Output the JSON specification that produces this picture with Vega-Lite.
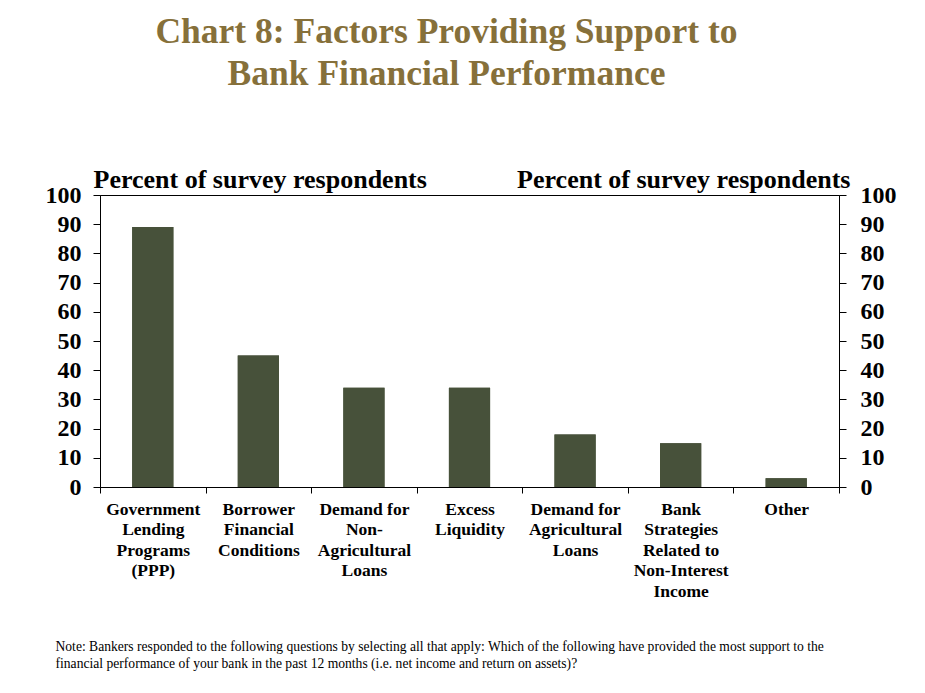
{
  "$schema": "https://vega.github.io/schema/vega-lite/v6.json",
  "autosize": {"type": "none"},
  "padding": {"left": 100, "top": 195, "right": 86, "bottom": 206},
  "width": 739,
  "height": 292,
  "background": "white",
  "config": {
    "font": "Liberation Serif",
    "view": {"stroke": "black", "strokeWidth": 1},
    "axis": {
      "domainColor": "black",
      "tickColor": "black",
      "labelColor": "black",
      "titleColor": "black",
      "grid": false
    }
  },
  "title": {
    "text": ["Chart 8: Factors Providing Support to", "Bank Financial Performance"],
    "font": "Liberation Serif",
    "fontSize": 35.5,
    "fontWeight": "bold",
    "color": "#86703A",
    "lineHeight": 42,
    "anchor": "middle",
    "frame": "group",
    "dx": -23,
    "offset": 74
  },
  "data": {
    "values": [
      {"factor": "Government|Lending|Programs|(PPP)", "pct": 89},
      {"factor": "Borrower|Financial|Conditions", "pct": 45},
      {"factor": "Demand for|Non-|Agricultural|Loans", "pct": 34},
      {"factor": "Excess|Liquidity", "pct": 34},
      {"factor": "Demand for|Agricultural|Loans", "pct": 18},
      {"factor": "Bank|Strategies|Related to|Non-Interest|Income", "pct": 15},
      {"factor": "Other", "pct": 3}
    ]
  },
  "encoding": {
    "x": {
      "field": "factor",
      "type": "nominal",
      "sort": null,
      "scale": {"paddingInner": 0, "paddingOuter": 0},
      "axis": {
        "labelAngle": 0,
        "labelExpr": "split(datum.label, '|')",
        "labelFont": "Liberation Serif",
        "labelFontSize": 17.5,
        "labelFontWeight": "bold",
        "labelLineHeight": 20.5,
        "labelBaseline": "top",
        "labelPadding": 7,
        "tickBand": "extent",
        "tickSize": 6,
        "title": [
          "Note: Bankers responded to the following  questions by selecting all that apply: Which of the following  have provided the most support to the",
          "financial performance of your bank in the past 12 months (i.e. net income and return on assets)?"
        ],
        "titleFont": "Liberation Serif",
        "titleFontSize": 13.6,
        "titleFontWeight": "normal",
        "titleLineHeight": 17,
        "titleAlign": "left",
        "titleBaseline": "top",
        "titleX": -45,
        "titleY": 152
      }
    }
  },
  "layer": [
    {
      "mark": {"type": "bar", "color": "#47513A", "width": {"band": 0.39}},
      "encoding": {
        "y": {
          "field": "pct",
          "type": "quantitative",
          "scale": {"domain": [0, 100]},
          "axis": {
            "orient": "left",
            "values": [0, 10, 20, 30, 40, 50, 60, 70, 80, 90, 100],
            "labelFontSize": 24,
            "labelFontWeight": "bold",
            "labelPadding": 12,
            "tickSize": 7,
            "title": "Percent of survey respondents",
            "titleFontSize": 26,
            "titleFontWeight": "bold",
            "titleAngle": 0,
            "titleAlign": "left",
            "titleBaseline": "alphabetic",
            "titleX": -7,
            "titleY": -8
          }
        }
      }
    },
    {
      "mark": {"type": "bar", "color": "#47513A", "width": {"band": 0.39}},
      "encoding": {
        "y": {
          "field": "pct",
          "type": "quantitative",
          "scale": {"domain": [0, 100]},
          "axis": {
            "orient": "right",
            "values": [0, 10, 20, 30, 40, 50, 60, 70, 80, 90, 100],
            "labelFontSize": 24,
            "labelFontWeight": "bold",
            "labelPadding": 14,
            "tickSize": 7,
            "title": "Percent of survey respondents",
            "titleFontSize": 26,
            "titleFontWeight": "bold",
            "titleAngle": 0,
            "titleAlign": "right",
            "titleBaseline": "alphabetic",
            "titleX": 11,
            "titleY": -8
          }
        }
      }
    }
  ],
  "resolve": {"scale": {"y": "independent"}, "axis": {"y": "independent"}}
}
